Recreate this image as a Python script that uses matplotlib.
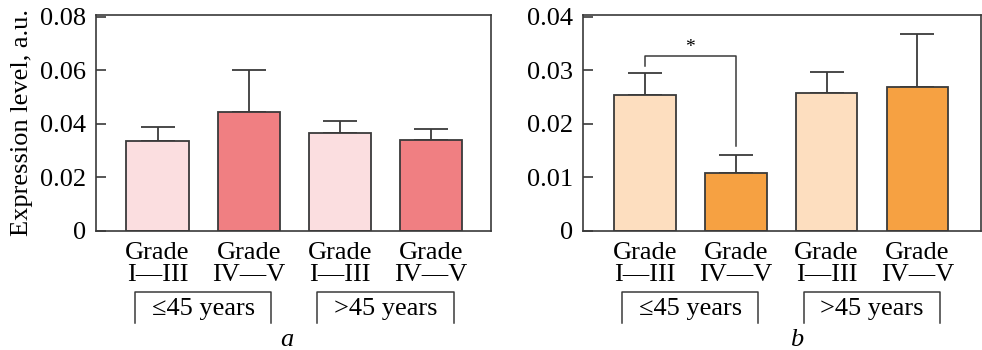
import numpy as np
import matplotlib.pyplot as plt
from matplotlib.transforms import blended_transform_factory


# -----------------------------
# Data
# -----------------------------
BAR_LABELS = ["Grade\nI\u2014III", "Grade\nIV\u2014V", "Grade\nI\u2014III", "Grade\nIV\u2014V"]
GROUP_LABELS = ["\u226445 years", ">45 years"]

MEANS_A = [0.0335, 0.0445, 0.0364, 0.0338]
ERRS_A = [0.0052, 0.0155, 0.0046, 0.0042]

MEANS_B = [0.0253, 0.0107, 0.0258, 0.0269]
ERRS_B = [0.0042, 0.0035, 0.0039, 0.0098]

TICKS_A = [0, 0.02, 0.04, 0.06, 0.08]
TICKS_B = [0, 0.01, 0.02, 0.03, 0.04]

# significance bracket between bar 0 and bar 1 in panel b
SIG_PAIR = (0, 1)
SIG_Y = 0.0327
SIG_LEFT_END = 0.0308
SIG_RIGHT_END = 0.0159


# -----------------------------
# Style
# -----------------------------
FONT = ["Liberation Serif", "DejaVu Serif"]
plt.rcParams["font.family"] = FONT
plt.rcParams["font.size"] = 19

EDGE = "#3a3a3a"
COLORS_A = ["#FBDEE0", "#F07F82", "#FBDEE0", "#F07F82"]
COLORS_B = ["#FDDEBF", "#F6A142", "#FDDEBF", "#F6A142"]


def draw_panel(ax, means, errs, colors, ticks, ylim, xlim):
    x = np.arange(len(means))
    ax.bar(x, means, width=0.68, color=colors, edgecolor=EDGE, linewidth=1.3, zorder=2)
    ax.errorbar(x, means, yerr=[np.zeros(len(errs)), errs], fmt="none",
                ecolor=EDGE, elinewidth=1.3, capsize=12, capthick=1.3, zorder=1)

    ax.set_xlim(*xlim)
    ax.set_ylim(*ylim)
    ax.set_yticks(ticks)
    ax.set_yticklabels(["0" if t == 0 else f"{t:.2f}" for t in ticks])
    ax.set_xticks([])
    ax.tick_params(axis="y", direction="in", length=7, width=1.2, color=EDGE, pad=7,
                   labelsize=19)
    for s in ax.spines.values():
        s.set_color(EDGE)
        s.set_linewidth(1.2)

    trans = blended_transform_factory(ax.transData, ax.transAxes)
    for xi, lab in zip(x, BAR_LABELS):
        ax.text(xi, -0.155, lab, transform=trans, ha="center", va="center",
                linespacing=1.0, fontsize=19)

    # age group brackets
    for gi, glab in enumerate(GROUP_LABELS):
        c = 2 * gi + 0.5
        x0, x1 = c - 0.75, c + 0.75
        ax.plot([x0, x0, x1, x1], [-0.426, -0.282, -0.282, -0.426], transform=trans,
                color=EDGE, linewidth=1.1, clip_on=False)
        ax.text(c, -0.362, glab, transform=trans, ha="center", va="center", fontsize=19)


fig = plt.figure(figsize=(9.82, 3.5), dpi=100)
ax_a = fig.add_axes([0.0978, 0.341, 0.4022, 0.617])
ax_b = fig.add_axes([0.5934, 0.341, 0.4056, 0.617])

draw_panel(ax_a, MEANS_A, ERRS_A, COLORS_A, TICKS_A, (0, 0.0807), (-0.674, 3.657))
draw_panel(ax_b, MEANS_B, ERRS_B, COLORS_B, TICKS_B, (0, 0.0404), (-0.683, 3.70))

# significance bracket
i, j = SIG_PAIR
ax_b.plot([i, i, j, j], [SIG_LEFT_END, SIG_Y, SIG_Y, SIG_RIGHT_END],
          color=EDGE, linewidth=1.1, zorder=3)
ax_b.text((i + j) / 2, 0.0343, "*", ha="center", va="center", fontsize=14)

fig.text(0.0224, 0.649, "Expression level, a.u.", rotation=90, ha="center", va="center",
         fontsize=19)
fig.text(0.292, 0.012, "a", style="italic", ha="center", va="baseline", fontsize=19)
fig.text(0.8116, 0.012, "b", style="italic", ha="center", va="baseline", fontsize=19)

fig.savefig("out.png", dpi=100)
